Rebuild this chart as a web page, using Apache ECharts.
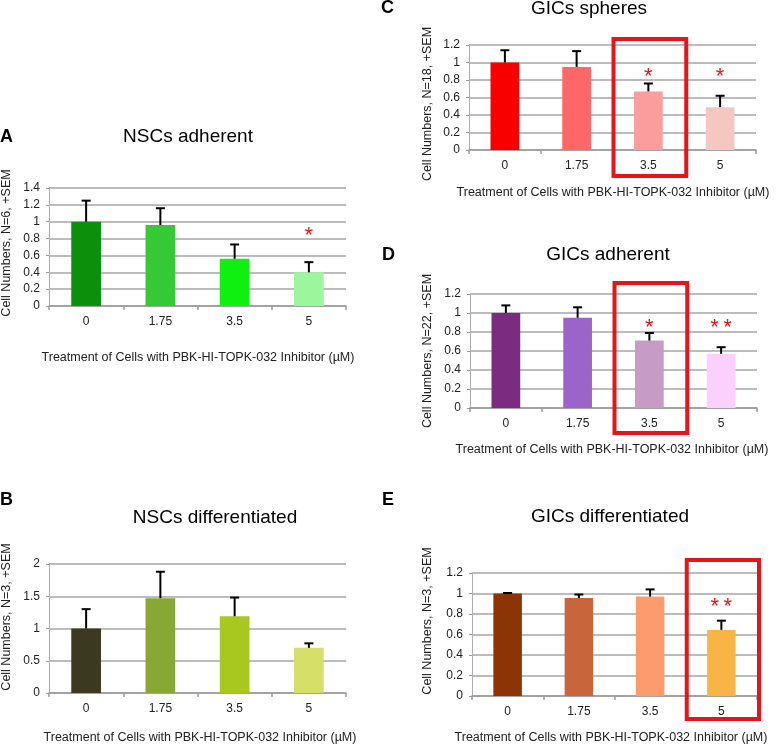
<!DOCTYPE html>
<html>
<head>
<meta charset="utf-8">
<script src="https://cdn.jsdelivr.net/npm/echarts@6/dist/echarts.min.js"></script>
<style>
  html, body { margin: 0; padding: 0; background: #fff; }
  #chart { width: 776px; height: 745px; }
</style>
</head>
<body>
<div id="chart"></div>
<script>
// ---------- DATA ----------
const categories = ['0', '1.75', '3.5', '5'];

const titleA = 'NSCs adherent';
const valuesA = [1.00, 0.96, 0.56, 0.40];
const errorsA = [0.25, 0.20, 0.17, 0.12];
const starsA = ['', '', '', '*'];
const starLevelA = 0.90;
const yNameA = 'Cell Numbers, N=6, +SEM';
const yMaxA = 1.4, yStepA = 0.2;

const titleB = 'NSCs differentiated';
const valuesB = [1.00, 1.47, 1.19, 0.70];
const errorsB = [0.30, 0.41, 0.29, 0.07];
const starsB = ['', '', '', ''];
const starLevelB = 0;
const yNameB = 'Cell Numbers, N=3, +SEM';
const yMaxB = 2, yStepB = 0.5;

const titleC = 'GICs spheres';
const valuesC = [1.00, 0.95, 0.67, 0.49];
const errorsC = [0.14, 0.18, 0.09, 0.13];
const starsC = ['', '', '*', '*'];
const starLevelC = 0.90;
const yNameC = 'Cell Numbers, N=18, +SEM';
const yMaxC = 1.2, yStepC = 0.2;
const boxC = 2;

const titleD = 'GICs adherent';
const valuesD = [1.00, 0.95, 0.71, 0.57];
const errorsD = [0.08, 0.11, 0.08, 0.07];
const starsD = ['', '', '*', '**'];
const starLevelD = 0.91;
const yNameD = 'Cell Numbers, N=22, +SEM';
const yMaxD = 1.2, yStepD = 0.2;
const boxD = 2;

const titleE = 'GICs differentiated';
const valuesE = [1.00, 0.955, 0.97, 0.645];
const errorsE = [0.005, 0.035, 0.07, 0.09];
const starsE = ['', '', '', '**'];
const starLevelE = 0.93;
const yNameE = 'Cell Numbers, N=3, +SEM';
const yMaxE = 1.2, yStepE = 0.2;
const boxE = 3;

const xName = 'Treatment of Cells with PBK-HI-TOPK-032 Inhibitor (\u00B5M)';

// ---------- STYLE / LAYOUT ----------
const FONT = '"Liberation Sans", Arial, Helvetica, sans-serif';

const panels = [
  { letter: 'A', title: titleA, values: valuesA, errors: errorsA, stars: starsA, starLevel: starLevelA,
    yName: yNameA, yMax: yMaxA, yStep: yStepA, box: null,
    colors: ['#0c900c', '#35c935', '#10f010', '#9cf79c'],
    grid: { left: 49, top: 188, width: 297, height: 118 },
    letterPos: [0, 137], titlePos: [188, 137], xNamePos: [198, 358], yNamePos: [7, 243], boxPad: [0, 0] },
  { letter: 'B', title: titleB, values: valuesB, errors: errorsB, stars: starsB, starLevel: starLevelB,
    yName: yNameB, yMax: yMaxB, yStep: yStepB, box: null,
    colors: ['#3b3a20', '#87a834', '#a9c81f', '#d5e068'],
    grid: { left: 49, top: 564, width: 297, height: 129 },
    letterPos: [0, 500], titlePos: [215, 518], xNamePos: [200, 738], yNamePos: [7, 617], boxPad: [0, 0] },
  { letter: 'C', title: titleC, values: valuesC, errors: errorsC, stars: starsC, starLevel: starLevelC,
    yName: yNameC, yMax: yMaxC, yStep: yStepC, box: boxC,
    colors: ['#f80000', '#fd6767', '#fc9d9d', '#f4c7c1'],
    grid: { left: 469, top: 45, width: 287, height: 105 },
    letterPos: [381, 8], titlePos: [589, 9], xNamePos: [613, 193], yNamePos: [428, 104], boxPad: [6, 26] },
  { letter: 'D', title: titleD, values: valuesD, errors: errorsD, stars: starsD, starLevel: starLevelD,
    yName: yNameD, yMax: yMaxD, yStep: yStepD, box: boxD,
    colors: ['#7b2c80', '#9a64c9', '#c69cc6', '#fcd0fc'],
    grid: { left: 470, top: 294, width: 287, height: 114 },
    letterPos: [382, 255], titlePos: [608, 255], xNamePos: [612, 450], yNamePos: [428, 351], boxPad: [11, 25] },
  { letter: 'E', title: titleE, values: valuesE, errors: errorsE, stars: starsE, starLevel: starLevelE,
    yName: yNameE, yMax: yMaxE, yStep: yStepE, box: boxE,
    colors: ['#8c3405', '#c9653a', '#fd9b6c', '#f8b444'],
    grid: { left: 472, top: 573, width: 285, height: 123 },
    letterPos: [382, 500], titlePos: [610, 517], xNamePos: [611, 738], yNamePos: [428, 621], boxPad: [13, 23] }
];

const grids = [], xAxes = [], yAxes = [], series = [], graphics = [];

function txt(text, x, y, size, opts) {
  opts = opts || {};
  return {
    type: 'text', x: x, y: y, rotation: opts.rotation || 0, z: 10,
    style: {
      text: text, fontSize: size, fontFamily: FONT, fontWeight: opts.weight || 'normal',
      fill: opts.fill || '#111', align: opts.align || 'center', verticalAlign: 'middle',
      textAlign: opts.align || 'center', textVerticalAlign: 'middle'
    }
  };
}

panels.forEach((p, k) => {
  grids.push(Object.assign({ containLabel: false }, p.grid));
  xAxes.push({
    type: 'category', gridIndex: k, data: categories,
    axisLine: { show: true, lineStyle: { color: '#9a9a9a', width: 1.5 } },
    axisTick: { show: true, length: 4, lineStyle: { color: '#9a9a9a', width: 1.5 } },
    axisLabel: { margin: 10, fontSize: 12, fontFamily: FONT, color: '#222' },
    splitLine: { show: false }
  });
  yAxes.push({
    type: 'value', gridIndex: k, min: 0, max: p.yMax, interval: p.yStep,
    axisLine: { show: true, lineStyle: { color: '#b0b0b0', width: 1 } },
    axisTick: { show: true, length: 3, lineStyle: { color: '#9a9a9a' } },
    axisLabel: { margin: 9, fontSize: 12, fontFamily: FONT, color: '#222' },
    splitLine: { show: true, lineStyle: { color: '#a6a6a6', width: 1.5 } }
  });

  // bars
  series.push({
    type: 'bar', xAxisIndex: k, yAxisIndex: k, barWidth: '40%',
    data: p.values.map((v, i) => ({ value: v, itemStyle: { color: p.colors[i] } })),
    z: 2, silent: true
  });

  // error bars
  series.push({
    type: 'custom', xAxisIndex: k, yAxisIndex: k, z: 3, silent: true,
    data: p.values.map((v, i) => [i, v, p.errors[i]]),
    renderItem: function (params, api) {
      const i = api.value(0), v = api.value(1), e = api.value(2);
      const a = api.coord([i, v]);
      const b = api.coord([i, v + e]);
      return {
        type: 'group', children: [
          { type: 'line', shape: { x1: a[0], y1: a[1], x2: b[0], y2: b[1] }, style: { stroke: '#000', lineWidth: 2 } },
          { type: 'line', shape: { x1: b[0] - 4.5, y1: b[1], x2: b[0] + 4.5, y2: b[1] }, style: { stroke: '#000', lineWidth: 2 } }
        ]
      };
    }
  });

  // significance stars
  const starIdx = p.stars.map((s, i) => s ? i : -1).filter(i => i >= 0);
  if (starIdx.length) {
    series.push({
      type: 'custom', xAxisIndex: k, yAxisIndex: k, z: 4, silent: true,
      data: starIdx.map(i => [i, p.starLevel]),
      renderItem: function (params, api) {
        const c = api.coord([api.value(0), api.value(1)]);
        const s = p.stars[starIdx[params.dataIndex]];
        return {
          type: 'text', x: c[0], y: c[1] + 6,
          style: {
            text: s.split('').join('\u2009'), fontSize: 22, fontFamily: FONT, fill: '#e8141c',
            align: 'center', verticalAlign: 'middle', textAlign: 'center', textVerticalAlign: 'middle'
          }
        };
      }
    });
  }

  // highlight box
  if (p.box !== null) {
    series.push({
      type: 'custom', xAxisIndex: k, yAxisIndex: k, z: 5, silent: true, clip: false,
      data: [[p.box, p.yMax]],
      renderItem: function (params, api) {
        const top = api.coord([api.value(0), api.value(1)]);
        const bot = api.coord([api.value(0), 0]);
        const w = api.size([1, 0])[0];
        return {
          type: 'rect',
          shape: { x: top[0] - w / 2 + 1, y: top[1] - p.boxPad[0], width: w + 1, height: bot[1] - top[1] + p.boxPad[0] + p.boxPad[1] },
          style: { fill: 'none', stroke: '#e8141c', lineWidth: 4 }
        };
      }
    });
  }

  graphics.push(txt(p.letter, p.letterPos[0], p.letterPos[1], 18, { weight: 'bold', align: 'left', fill: '#000' }));
  graphics.push(txt(p.title, p.titlePos[0], p.titlePos[1], 19, { fill: '#000' }));
  graphics.push(txt(xName, p.xNamePos[0], p.xNamePos[1], 12.5, { fill: '#222' }));
  graphics.push(txt(p.yName, p.yNamePos[0], p.yNamePos[1], 12.5, { fill: '#222', rotation: Math.PI / 2 }));
});

const chart = echarts.init(document.getElementById('chart'), null, { renderer: 'canvas' });
chart.setOption({
  animation: false,
  backgroundColor: '#fff',
  grid: grids,
  xAxis: xAxes,
  yAxis: yAxes,
  series: series,
  graphic: graphics
});
</script>
</body>
</html>
